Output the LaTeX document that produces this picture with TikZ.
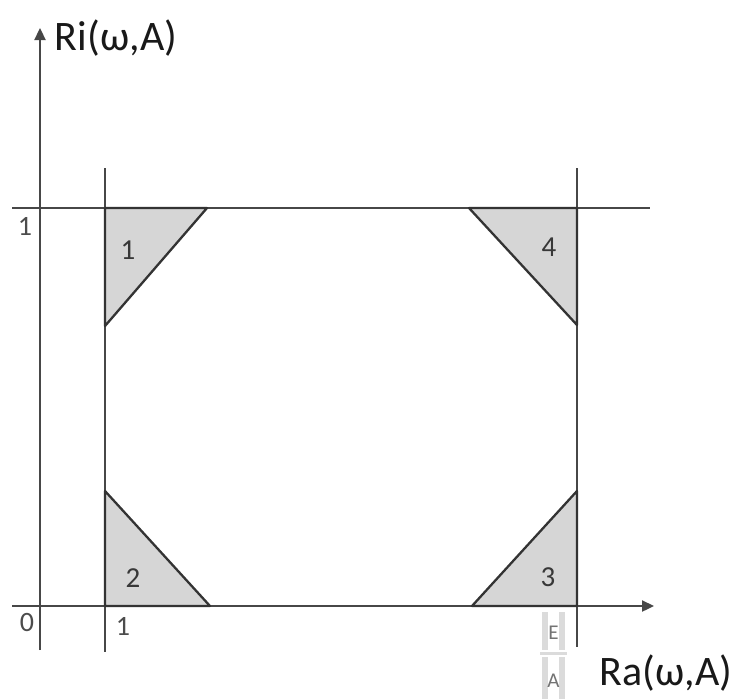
\documentclass[tikz,border=0pt]{standalone}
\usepackage{fontspec}
\setmainfont{Carlito}
\usetikzlibrary{arrows.meta}

\begin{document}
\begin{tikzpicture}[x=1pt,y=-1pt,
	axis/.style={draw=black!72,line width=2.3pt},
	corner/.style={draw=black!80,fill=black!16,line width=2.3pt,line join=round},
	num/.style={font=\fontsize{29}{29}\selectfont,text=black!78},
	tick/.style={font=\fontsize{28}{28}\selectfont,text=black!70},
	axisname/.style={font=\fontsize{42}{42}\selectfont,text=black!90},
	strip/.style={fill=black!14,draw=none}]
	\useasboundingbox (0,0) rectangle (736,699);
	% axes and bounds
	\draw[axis,-{Triangle[length=12pt,width=11pt]}] (40,650) -- (40,28);
	\draw[axis,-{Triangle[length=12pt,width=11pt]}] (12,606) -- (654,606);
	\draw[axis] (12,208) -- (650,208);
	\draw[axis] (105,168) -- (105,652);
	\draw[axis] (577,168) -- (577,647);
	% corner triangles
	\draw[corner] (105,208) -- (207,208) -- (105,326) -- cycle;
	\draw[corner] (105,491) -- (210,606) -- (105,606) -- cycle;
	\draw[corner] (577,491) -- (577,606) -- (472,606) -- cycle;
	\draw[corner] (469,208) -- (577,208) -- (577,325) -- cycle;
	\node[num] (n1) at (128,250) {1};
	\node[num] (n2) at (133,578) {2};
	\node[num] (n3) at (548,577) {3};
	\node[num] (n4) at (549,247) {4};
	% ticks
	\node[tick] (one) at (25,226) {1};
	\node[tick] (zero) at (27,623) {0};
	\node[tick] (onex) at (123,626) {1};
	% axis names
	\node[axisname] (ylab) at (116,38) {Ri(ω,A)};
	\node[axisname] (xlab) at (666,673) {Ra(ω,A)};
	% E / A strip
	\fill[strip] (542,612) rectangle (548,650);
	\fill[strip] (559,612) rectangle (565,650);
	\fill[strip] (540,652) rectangle (567,655);
	\fill[strip] (542,657) rectangle (548,699);
	\fill[strip] (559,657) rectangle (565,699);
	\node[tick,font=\fontsize{21}{21}\selectfont,text=black!55] (e) at (553.5,633) {E};
	\node[tick,font=\fontsize{21}{21}\selectfont,text=black!55] (a) at (553.5,681) {A};
\end{tikzpicture}
\end{document}
